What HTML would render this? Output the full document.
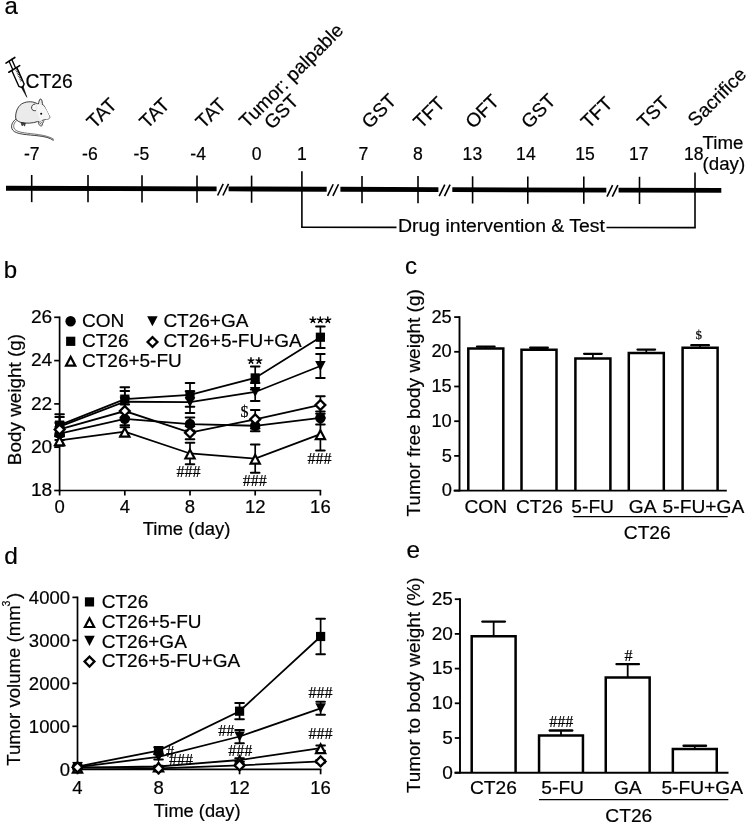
<!DOCTYPE html>
<html><head><meta charset="utf-8"><style>
html,body{margin:0;padding:0;background:#fff;width:747px;height:823px;overflow:hidden}
svg{display:block;will-change:transform;transform:translateZ(0)}
text{font-family:"Liberation Sans", sans-serif;fill:#000;stroke:#000;stroke-width:0.2px}
</style></head><body>
<svg width="747" height="823" viewBox="0 0 747 823">
<rect width="747" height="823" fill="#fff"/>
<text x="4.50" y="13.60" font-size="24" text-anchor="start" >a</text>
<path d="M6.00,185.87 L216.60,186.50 L216.60,191.30 L6.00,190.67 Z" fill="#000"/>
<path d="M228.60,186.54 L326.70,186.83 L326.70,191.63 L228.60,191.34 Z" fill="#000"/>
<path d="M340.40,186.87 L438.40,187.17 L438.40,191.97 L340.40,191.67 Z" fill="#000"/>
<path d="M452.30,187.21 L606.30,187.67 L606.30,192.47 L452.30,192.01 Z" fill="#000"/>
<path d="M618.60,187.71 L721.30,188.01 L721.30,192.81 L618.60,192.51 Z" fill="#000"/>
<line x1="217.60" y1="195.50" x2="223.20" y2="183.90" stroke="#000" stroke-width="1.6" />
<line x1="222.90" y1="195.50" x2="228.50" y2="183.90" stroke="#000" stroke-width="1.6" />
<line x1="327.60" y1="195.83" x2="333.20" y2="184.23" stroke="#000" stroke-width="1.6" />
<line x1="332.90" y1="195.83" x2="338.50" y2="184.23" stroke="#000" stroke-width="1.6" />
<line x1="439.20" y1="196.17" x2="444.80" y2="184.57" stroke="#000" stroke-width="1.6" />
<line x1="444.50" y1="196.17" x2="450.10" y2="184.57" stroke="#000" stroke-width="1.6" />
<line x1="607.00" y1="196.67" x2="612.60" y2="185.07" stroke="#000" stroke-width="1.6" />
<line x1="612.30" y1="196.67" x2="617.90" y2="185.07" stroke="#000" stroke-width="1.6" />
<line x1="31.70" y1="174.95" x2="31.70" y2="202.15" stroke="#000" stroke-width="1.6" />
<text x="31.80" y="160.00" font-size="17.6" text-anchor="middle" >-7</text>
<line x1="88.00" y1="175.11" x2="88.00" y2="202.31" stroke="#000" stroke-width="1.6" />
<text x="89.90" y="160.00" font-size="17.6" text-anchor="middle" >-6</text>
<line x1="142.00" y1="175.28" x2="142.00" y2="202.48" stroke="#000" stroke-width="1.6" />
<text x="141.40" y="160.00" font-size="17.6" text-anchor="middle" >-5</text>
<line x1="197.00" y1="175.44" x2="197.00" y2="202.64" stroke="#000" stroke-width="1.6" />
<text x="198.20" y="160.00" font-size="17.6" text-anchor="middle" >-4</text>
<line x1="251.60" y1="175.60" x2="251.60" y2="202.80" stroke="#000" stroke-width="1.6" />
<text x="256.70" y="160.00" font-size="17.6" text-anchor="middle" >0</text>
<line x1="301.90" y1="171.36" x2="301.90" y2="227.30" stroke="#000" stroke-width="1.6" />
<text x="301.80" y="160.00" font-size="17.6" text-anchor="middle" >1</text>
<line x1="362.00" y1="175.94" x2="362.00" y2="203.14" stroke="#000" stroke-width="1.6" />
<text x="363.40" y="160.00" font-size="17.6" text-anchor="middle" >7</text>
<line x1="418.00" y1="176.10" x2="418.00" y2="203.30" stroke="#000" stroke-width="1.6" />
<text x="418.00" y="160.00" font-size="17.6" text-anchor="middle" >8</text>
<line x1="472.60" y1="176.27" x2="472.60" y2="203.47" stroke="#000" stroke-width="1.6" />
<text x="472.40" y="160.00" font-size="17.6" text-anchor="middle" >13</text>
<line x1="527.80" y1="176.43" x2="527.80" y2="203.63" stroke="#000" stroke-width="1.6" />
<text x="525.90" y="160.00" font-size="17.6" text-anchor="middle" >14</text>
<line x1="583.80" y1="176.60" x2="583.80" y2="203.80" stroke="#000" stroke-width="1.6" />
<text x="585.00" y="160.00" font-size="17.6" text-anchor="middle" >15</text>
<line x1="639.50" y1="176.77" x2="639.50" y2="203.97" stroke="#000" stroke-width="1.6" />
<text x="638.80" y="160.00" font-size="17.6" text-anchor="middle" >17</text>
<line x1="695.00" y1="172.53" x2="695.00" y2="227.62" stroke="#000" stroke-width="1.6" />
<text x="693.80" y="160.00" font-size="17.6" text-anchor="middle" >18</text>
<line x1="301.10" y1="227.30" x2="396.50" y2="227.38" stroke="#000" stroke-width="1.6" />
<line x1="606.50" y1="227.55" x2="695.80" y2="227.62" stroke="#000" stroke-width="1.6" />
<text x="398.00" y="231.80" font-size="17.6" text-anchor="start" textLength="207" lengthAdjust="spacingAndGlyphs" >Drug intervention &amp; Test</text>
<text x="702.60" y="148.60" font-size="18.7" text-anchor="start" >Time</text>
<text x="702.60" y="170.20" font-size="18.7" text-anchor="start" >(day)</text>
<text transform="translate(94.50,129.50) rotate(-45)" font-size="19.2">TAT</text>
<text transform="translate(147.30,129.50) rotate(-45)" font-size="19.2">TAT</text>
<text transform="translate(203.60,129.50) rotate(-45)" font-size="19.2">TAT</text>
<text transform="translate(247.00,128.90) rotate(-45)" font-size="19.2">Tumor: palpable</text>
<text transform="translate(272.00,130.20) rotate(-45)" font-size="19.2">GST</text>
<text transform="translate(369.60,129.50) rotate(-45)" font-size="19.2">GST</text>
<text transform="translate(421.20,129.50) rotate(-45)" font-size="19.2">TFT</text>
<text transform="translate(473.20,129.50) rotate(-45)" font-size="19.2">OFT</text>
<text transform="translate(528.90,129.50) rotate(-45)" font-size="19.2">GST</text>
<text transform="translate(588.80,129.50) rotate(-45)" font-size="19.2">TFT</text>
<text transform="translate(644.90,129.50) rotate(-45)" font-size="19.2">TST</text>
<text transform="translate(695.60,127.60) rotate(-45)" font-size="19.2">Sacrifice</text>
<text x="25.60" y="87.80" font-size="19.3" text-anchor="start" >CT26</text>
<g transform="translate(10.4,60.3) rotate(-24)" stroke="#000" fill="none" stroke-linecap="round">
<line x1="-5.2" y1="0.8" x2="5.2" y2="-0.8" stroke-width="1.6"/>
<line x1="-1.6" y1="0.3" x2="-1.6" y2="9.6" stroke-width="1.3"/>
<line x1="1.6" y1="-0.3" x2="1.6" y2="9.2" stroke-width="1.3"/>
<line x1="-6.3" y1="10.3" x2="6.3" y2="8.7" stroke-width="1.6"/>
<path d="M-2.9,9.9 L-2.9,27.2 L-0.9,29.2 L0.9,29.2 L2.9,27.2 L2.9,9.3" stroke-width="1.4" stroke-linejoin="round"/>
<g stroke-width="0.75"><line x1="1.0" y1="11.2" x2="2.9" y2="11.2"/><line x1="1.0" y1="12.9" x2="2.9" y2="12.9"/><line x1="1.0" y1="14.6" x2="2.9" y2="14.6"/><line x1="1.0" y1="16.3" x2="2.9" y2="16.3"/><line x1="1.0" y1="18.0" x2="2.9" y2="18.0"/><line x1="1.0" y1="19.7" x2="2.9" y2="19.7"/><line x1="1.0" y1="21.4" x2="2.9" y2="21.4"/><line x1="1.0" y1="23.1" x2="2.9" y2="23.1"/></g>
<path d="M-1.0,29 L0,40.5 L1.0,29 Z" fill="#000" stroke-width="0.5"/>
</g>
<g stroke="#1a1a1a" stroke-linejoin="round">
<path d="M16.6,118.6 C12.2,121.6 10.2,126 12.6,130 C16,134.6 28,134.6 38,135.8 C45,136.6 50,137.8 53.5,140.5" fill="none" stroke-width="0.85"/>
<path d="M17.8,119.6 C14,122.4 12.6,126 14.6,129.2 C17.6,133 29,133.2 38.5,134.6 C45.5,135.6 50.5,137 54,139.5" fill="none" stroke-width="0.6"/>
<path d="M15.7,118 C15.3,112.5 17.5,106.8 21.5,104 C25.5,101.5 31.5,101 36,103 L38.4,104.3 C38.7,102 39.3,100 40.1,99.1 C41,98.7 41.7,99.6 42,101 L42.4,103.4 L42.1,104.2 L43.8,105.4 C45.4,108.2 47.2,111.6 48.6,114.6 C49.3,115.8 50.1,116.8 49.7,117.8 C49.2,118.9 47.8,119.2 46.5,119.1 C44.8,119.1 43.3,119.6 42.4,120.4 C41.6,121 40.9,121.6 40.4,122 L37.5,121.6 C33,123.3 25.5,123.8 20.5,122.3 C18,121.5 16.2,120 15.7,118 Z" fill="#ebebeb" stroke-width="0.85"/>
<path d="M37,104.5 C39.5,103.8 42.5,104.5 44.2,106.5 C46.4,109.4 48.2,113 49.6,117 C49.2,118.6 48,119 46.5,119 C44.5,119 42.6,119.6 41.2,120.6 C38.8,118 36.6,111 37,104.5 Z" fill="#f6f6f6" stroke="none"/>
<path d="M35.4,104 C33,104 31.2,106 31.6,108.4 C32,110.2 33.8,111 35.8,110.6" fill="#f8f8f8" stroke-width="0.85"/>
<circle cx="41.2" cy="113.7" r="1.0" fill="#000" stroke="none"/>
<path d="M38.8,121.6 C38.2,123.4 39,125.4 40.6,125.9 C42,126.2 42.9,125 42.4,123.6 C43.5,122.8 43.7,121.2 42.6,120.4" fill="#f0f0f0" stroke-width="0.75"/><path d="M39.6,122.4 L41.4,124.6 M40.6,121.4 L42.4,123.2 M43.2,119.6 L44.6,121.2" stroke-width="0.6" fill="none"/>
<path d="M21,122.6 L22,125.8 L23.4,124.6 L24.6,126.2 L25.4,123.2 Z" fill="#444" stroke-width="0.6"/>
</g>
<text x="3.80" y="277.60" font-size="24" text-anchor="start" >b</text>
<line x1="59.60" y1="316.50" x2="59.60" y2="491.30" stroke="#000" stroke-width="1.7" />
<line x1="58.80" y1="490.50" x2="321.20" y2="490.50" stroke="#000" stroke-width="1.7" />
<line x1="54.20" y1="490.50" x2="59.60" y2="490.50" stroke="#000" stroke-width="1.7" />
<text x="52.30" y="496.20" font-size="19.2" text-anchor="end" >18</text>
<line x1="54.20" y1="447.20" x2="59.60" y2="447.20" stroke="#000" stroke-width="1.7" />
<text x="52.30" y="452.90" font-size="19.2" text-anchor="end" >20</text>
<line x1="54.20" y1="403.90" x2="59.60" y2="403.90" stroke="#000" stroke-width="1.7" />
<text x="52.30" y="409.60" font-size="19.2" text-anchor="end" >22</text>
<line x1="54.20" y1="360.60" x2="59.60" y2="360.60" stroke="#000" stroke-width="1.7" />
<text x="52.30" y="366.30" font-size="19.2" text-anchor="end" >24</text>
<line x1="54.20" y1="317.30" x2="59.60" y2="317.30" stroke="#000" stroke-width="1.7" />
<text x="52.30" y="323.00" font-size="19.2" text-anchor="end" >26</text>
<line x1="59.60" y1="490.50" x2="59.60" y2="495.50" stroke="#000" stroke-width="1.7" />
<text x="59.60" y="513.30" font-size="18.5" text-anchor="middle" >0</text>
<line x1="124.80" y1="490.50" x2="124.80" y2="495.50" stroke="#000" stroke-width="1.7" />
<text x="124.80" y="513.30" font-size="18.5" text-anchor="middle" >4</text>
<line x1="190.00" y1="490.50" x2="190.00" y2="495.50" stroke="#000" stroke-width="1.7" />
<text x="190.00" y="513.30" font-size="18.5" text-anchor="middle" >8</text>
<line x1="255.20" y1="490.50" x2="255.20" y2="495.50" stroke="#000" stroke-width="1.7" />
<text x="255.20" y="513.30" font-size="18.5" text-anchor="middle" >12</text>
<line x1="320.40" y1="490.50" x2="320.40" y2="495.50" stroke="#000" stroke-width="1.7" />
<text x="320.40" y="513.30" font-size="18.5" text-anchor="middle" >16</text>
<text x="186.60" y="535.40" font-size="18.5" text-anchor="middle" >Time (day)</text>
<text transform="translate(20.8,399.5) rotate(-90)" font-size="18.9" text-anchor="middle">Body weight (g)</text>
<line x1="59.60" y1="427.07" x2="59.60" y2="440.06" stroke="#000" stroke-width="1.7" />
<line x1="55.30" y1="427.07" x2="63.90" y2="427.07" stroke="#000" stroke-width="2.0" stroke-linecap="round"/>
<line x1="55.30" y1="440.06" x2="63.90" y2="440.06" stroke="#000" stroke-width="2.0" stroke-linecap="round"/>
<line x1="124.80" y1="412.34" x2="124.80" y2="425.33" stroke="#000" stroke-width="1.7" />
<line x1="120.50" y1="412.34" x2="129.10" y2="412.34" stroke="#000" stroke-width="2.0" stroke-linecap="round"/>
<line x1="120.50" y1="425.33" x2="129.10" y2="425.33" stroke="#000" stroke-width="2.0" stroke-linecap="round"/>
<line x1="190.00" y1="417.54" x2="190.00" y2="430.53" stroke="#000" stroke-width="1.7" />
<line x1="185.70" y1="417.54" x2="194.30" y2="417.54" stroke="#000" stroke-width="2.0" stroke-linecap="round"/>
<line x1="185.70" y1="430.53" x2="194.30" y2="430.53" stroke="#000" stroke-width="2.0" stroke-linecap="round"/>
<line x1="255.20" y1="420.35" x2="255.20" y2="431.18" stroke="#000" stroke-width="1.7" />
<line x1="250.90" y1="420.35" x2="259.50" y2="420.35" stroke="#000" stroke-width="2.0" stroke-linecap="round"/>
<line x1="250.90" y1="431.18" x2="259.50" y2="431.18" stroke="#000" stroke-width="2.0" stroke-linecap="round"/>
<line x1="320.40" y1="411.48" x2="320.40" y2="424.47" stroke="#000" stroke-width="1.7" />
<line x1="316.10" y1="411.48" x2="324.70" y2="411.48" stroke="#000" stroke-width="2.0" stroke-linecap="round"/>
<line x1="316.10" y1="424.47" x2="324.70" y2="424.47" stroke="#000" stroke-width="2.0" stroke-linecap="round"/>
<polyline points="59.60,433.56 124.80,418.84 190.00,424.03 255.20,425.77 320.40,417.97" fill="none" stroke="#000" stroke-width="1.8"/>
<circle cx="59.60" cy="433.56" r="5.2" fill="#000"/>
<circle cx="124.80" cy="418.84" r="5.2" fill="#000"/>
<circle cx="190.00" cy="424.03" r="5.2" fill="#000"/>
<circle cx="255.20" cy="425.77" r="5.2" fill="#000"/>
<circle cx="320.40" cy="417.97" r="5.2" fill="#000"/>
<line x1="59.60" y1="414.29" x2="59.60" y2="435.94" stroke="#000" stroke-width="1.7" />
<line x1="55.30" y1="414.29" x2="63.90" y2="414.29" stroke="#000" stroke-width="2.0" stroke-linecap="round"/>
<line x1="55.30" y1="435.94" x2="63.90" y2="435.94" stroke="#000" stroke-width="2.0" stroke-linecap="round"/>
<line x1="124.80" y1="387.23" x2="124.80" y2="411.04" stroke="#000" stroke-width="1.7" />
<line x1="120.50" y1="387.23" x2="129.10" y2="387.23" stroke="#000" stroke-width="2.0" stroke-linecap="round"/>
<line x1="120.50" y1="411.04" x2="129.10" y2="411.04" stroke="#000" stroke-width="2.0" stroke-linecap="round"/>
<line x1="190.00" y1="382.90" x2="190.00" y2="406.71" stroke="#000" stroke-width="1.7" />
<line x1="185.70" y1="382.90" x2="194.30" y2="382.90" stroke="#000" stroke-width="2.0" stroke-linecap="round"/>
<line x1="185.70" y1="406.71" x2="194.30" y2="406.71" stroke="#000" stroke-width="2.0" stroke-linecap="round"/>
<line x1="255.20" y1="366.45" x2="255.20" y2="389.39" stroke="#000" stroke-width="1.7" />
<line x1="250.90" y1="366.45" x2="259.50" y2="366.45" stroke="#000" stroke-width="2.0" stroke-linecap="round"/>
<line x1="250.90" y1="389.39" x2="259.50" y2="389.39" stroke="#000" stroke-width="2.0" stroke-linecap="round"/>
<line x1="320.40" y1="326.39" x2="320.40" y2="348.04" stroke="#000" stroke-width="1.7" />
<line x1="316.10" y1="326.39" x2="324.70" y2="326.39" stroke="#000" stroke-width="2.0" stroke-linecap="round"/>
<line x1="316.10" y1="348.04" x2="324.70" y2="348.04" stroke="#000" stroke-width="2.0" stroke-linecap="round"/>
<polyline points="59.60,425.12 124.80,399.14 190.00,394.81 255.20,377.92 320.40,337.22" fill="none" stroke="#000" stroke-width="1.8"/>
<rect x="55.00" y="420.52" width="9.20" height="9.20" fill="#000" stroke="none" stroke-width="0"/>
<rect x="120.20" y="394.54" width="9.20" height="9.20" fill="#000" stroke="none" stroke-width="0"/>
<rect x="185.40" y="390.21" width="9.20" height="9.20" fill="#000" stroke="none" stroke-width="0"/>
<rect x="250.60" y="373.32" width="9.20" height="9.20" fill="#000" stroke="none" stroke-width="0"/>
<rect x="315.80" y="332.62" width="9.20" height="9.20" fill="#000" stroke="none" stroke-width="0"/>
<line x1="59.60" y1="434.86" x2="59.60" y2="445.68" stroke="#000" stroke-width="1.7" />
<line x1="55.30" y1="434.86" x2="63.90" y2="434.86" stroke="#000" stroke-width="2.0" stroke-linecap="round"/>
<line x1="55.30" y1="445.68" x2="63.90" y2="445.68" stroke="#000" stroke-width="2.0" stroke-linecap="round"/>
<line x1="124.80" y1="427.28" x2="124.80" y2="435.94" stroke="#000" stroke-width="1.7" />
<line x1="120.50" y1="427.28" x2="129.10" y2="427.28" stroke="#000" stroke-width="2.0" stroke-linecap="round"/>
<line x1="120.50" y1="435.94" x2="129.10" y2="435.94" stroke="#000" stroke-width="2.0" stroke-linecap="round"/>
<line x1="190.00" y1="442.65" x2="190.00" y2="464.30" stroke="#000" stroke-width="1.7" />
<line x1="185.70" y1="442.65" x2="194.30" y2="442.65" stroke="#000" stroke-width="2.0" stroke-linecap="round"/>
<line x1="185.70" y1="464.30" x2="194.30" y2="464.30" stroke="#000" stroke-width="2.0" stroke-linecap="round"/>
<line x1="255.20" y1="444.60" x2="255.20" y2="472.75" stroke="#000" stroke-width="1.7" />
<line x1="250.90" y1="444.60" x2="259.50" y2="444.60" stroke="#000" stroke-width="2.0" stroke-linecap="round"/>
<line x1="250.90" y1="472.75" x2="259.50" y2="472.75" stroke="#000" stroke-width="2.0" stroke-linecap="round"/>
<line x1="320.40" y1="417.97" x2="320.40" y2="450.45" stroke="#000" stroke-width="1.7" />
<line x1="316.10" y1="417.97" x2="324.70" y2="417.97" stroke="#000" stroke-width="2.0" stroke-linecap="round"/>
<line x1="316.10" y1="450.45" x2="324.70" y2="450.45" stroke="#000" stroke-width="2.0" stroke-linecap="round"/>
<polyline points="59.60,440.27 124.80,431.61 190.00,453.48 255.20,458.67 320.40,434.21" fill="none" stroke="#000" stroke-width="1.8"/>
<path d="M59.60,434.17 L66.05,446.37 L53.15,446.37 Z" fill="#000"/>
<path d="M59.60,438.88 L62.40,444.17 L56.80,444.17 Z" fill="#fff"/>
<path d="M124.80,425.51 L131.25,437.71 L118.35,437.71 Z" fill="#000"/>
<path d="M124.80,430.22 L127.60,435.51 L122.00,435.51 Z" fill="#fff"/>
<path d="M190.00,447.38 L196.45,459.58 L183.55,459.58 Z" fill="#000"/>
<path d="M190.00,452.09 L192.80,457.38 L187.20,457.38 Z" fill="#fff"/>
<path d="M255.20,452.57 L261.65,464.77 L248.75,464.77 Z" fill="#000"/>
<path d="M255.20,457.28 L258.00,462.57 L252.40,462.57 Z" fill="#fff"/>
<path d="M320.40,428.11 L326.85,440.31 L313.95,440.31 Z" fill="#000"/>
<path d="M320.40,432.82 L323.20,438.11 L317.60,438.11 Z" fill="#fff"/>
<line x1="59.60" y1="416.89" x2="59.60" y2="436.38" stroke="#000" stroke-width="1.7" />
<line x1="55.30" y1="416.89" x2="63.90" y2="416.89" stroke="#000" stroke-width="2.0" stroke-linecap="round"/>
<line x1="55.30" y1="436.38" x2="63.90" y2="436.38" stroke="#000" stroke-width="2.0" stroke-linecap="round"/>
<line x1="124.80" y1="390.91" x2="124.80" y2="412.56" stroke="#000" stroke-width="1.7" />
<line x1="120.50" y1="390.91" x2="129.10" y2="390.91" stroke="#000" stroke-width="2.0" stroke-linecap="round"/>
<line x1="120.50" y1="412.56" x2="129.10" y2="412.56" stroke="#000" stroke-width="2.0" stroke-linecap="round"/>
<line x1="190.00" y1="391.34" x2="190.00" y2="412.99" stroke="#000" stroke-width="1.7" />
<line x1="185.70" y1="391.34" x2="194.30" y2="391.34" stroke="#000" stroke-width="2.0" stroke-linecap="round"/>
<line x1="185.70" y1="412.99" x2="194.30" y2="412.99" stroke="#000" stroke-width="2.0" stroke-linecap="round"/>
<line x1="255.20" y1="382.90" x2="255.20" y2="401.09" stroke="#000" stroke-width="1.7" />
<line x1="250.90" y1="382.90" x2="259.50" y2="382.90" stroke="#000" stroke-width="2.0" stroke-linecap="round"/>
<line x1="250.90" y1="401.09" x2="259.50" y2="401.09" stroke="#000" stroke-width="2.0" stroke-linecap="round"/>
<line x1="320.40" y1="354.11" x2="320.40" y2="377.92" stroke="#000" stroke-width="1.7" />
<line x1="316.10" y1="354.11" x2="324.70" y2="354.11" stroke="#000" stroke-width="2.0" stroke-linecap="round"/>
<line x1="316.10" y1="377.92" x2="324.70" y2="377.92" stroke="#000" stroke-width="2.0" stroke-linecap="round"/>
<polyline points="59.60,426.63 124.80,401.73 190.00,402.17 255.20,391.99 320.40,366.01" fill="none" stroke="#000" stroke-width="1.8"/>
<path d="M54.35,421.58 L64.85,421.58 L59.60,431.68 Z" fill="#000"/>
<path d="M119.55,396.68 L130.05,396.68 L124.80,406.78 Z" fill="#000"/>
<path d="M184.75,397.12 L195.25,397.12 L190.00,407.22 Z" fill="#000"/>
<path d="M249.95,386.94 L260.45,386.94 L255.20,397.04 Z" fill="#000"/>
<path d="M315.15,360.96 L325.65,360.96 L320.40,371.06 Z" fill="#000"/>
<line x1="59.60" y1="422.95" x2="59.60" y2="435.94" stroke="#000" stroke-width="1.7" />
<line x1="55.30" y1="422.95" x2="63.90" y2="422.95" stroke="#000" stroke-width="2.0" stroke-linecap="round"/>
<line x1="55.30" y1="435.94" x2="63.90" y2="435.94" stroke="#000" stroke-width="2.0" stroke-linecap="round"/>
<line x1="124.80" y1="404.55" x2="124.80" y2="417.54" stroke="#000" stroke-width="1.7" />
<line x1="120.50" y1="404.55" x2="129.10" y2="404.55" stroke="#000" stroke-width="2.0" stroke-linecap="round"/>
<line x1="120.50" y1="417.54" x2="129.10" y2="417.54" stroke="#000" stroke-width="2.0" stroke-linecap="round"/>
<line x1="190.00" y1="426.20" x2="190.00" y2="439.19" stroke="#000" stroke-width="1.7" />
<line x1="185.70" y1="426.20" x2="194.30" y2="426.20" stroke="#000" stroke-width="2.0" stroke-linecap="round"/>
<line x1="185.70" y1="439.19" x2="194.30" y2="439.19" stroke="#000" stroke-width="2.0" stroke-linecap="round"/>
<line x1="255.20" y1="409.96" x2="255.20" y2="428.58" stroke="#000" stroke-width="1.7" />
<line x1="250.90" y1="409.96" x2="259.50" y2="409.96" stroke="#000" stroke-width="2.0" stroke-linecap="round"/>
<line x1="250.90" y1="428.58" x2="259.50" y2="428.58" stroke="#000" stroke-width="2.0" stroke-linecap="round"/>
<line x1="320.40" y1="396.32" x2="320.40" y2="413.64" stroke="#000" stroke-width="1.7" />
<line x1="316.10" y1="396.32" x2="324.70" y2="396.32" stroke="#000" stroke-width="2.0" stroke-linecap="round"/>
<line x1="316.10" y1="413.64" x2="324.70" y2="413.64" stroke="#000" stroke-width="2.0" stroke-linecap="round"/>
<polyline points="59.60,429.45 124.80,411.04 190.00,432.69 255.20,419.27 320.40,404.98" fill="none" stroke="#000" stroke-width="1.8"/>
<path d="M59.60,422.90 L66.15,429.45 L59.60,436.00 L53.05,429.45 Z" fill="#000"/>
<path d="M59.60,426.15 L62.90,429.45 L59.60,432.75 L56.30,429.45 Z" fill="#fff"/>
<path d="M124.80,404.49 L131.35,411.04 L124.80,417.59 L118.25,411.04 Z" fill="#000"/>
<path d="M124.80,407.74 L128.10,411.04 L124.80,414.34 L121.50,411.04 Z" fill="#fff"/>
<path d="M190.00,426.14 L196.55,432.69 L190.00,439.24 L183.45,432.69 Z" fill="#000"/>
<path d="M190.00,429.39 L193.30,432.69 L190.00,435.99 L186.70,432.69 Z" fill="#fff"/>
<path d="M255.20,412.72 L261.75,419.27 L255.20,425.82 L248.65,419.27 Z" fill="#000"/>
<path d="M255.20,415.97 L258.50,419.27 L255.20,422.57 L251.90,419.27 Z" fill="#fff"/>
<path d="M320.40,398.43 L326.95,404.98 L320.40,411.53 L313.85,404.98 Z" fill="#000"/>
<path d="M320.40,401.68 L323.70,404.98 L320.40,408.28 L317.10,404.98 Z" fill="#fff"/>
<text x="188.40" y="476.60" font-size="16" text-anchor="middle" font-family="Liberation Serif, serif" style="font-family:'Liberation Serif',serif">###</text>
<text x="254.70" y="486.20" font-size="16" text-anchor="middle" font-family="Liberation Serif, serif" style="font-family:'Liberation Serif',serif">###</text>
<text x="319.40" y="464.20" font-size="16" text-anchor="middle" font-family="Liberation Serif, serif" style="font-family:'Liberation Serif',serif">###</text>
<path d="M251.00,360.80 L251.00,357.80 M251.00,360.80 L253.85,359.87 M251.00,360.80 L252.76,363.23 M251.00,360.80 L249.24,363.23 M251.00,360.80 L248.15,359.87 " stroke="#000" stroke-width="1.45" stroke-linecap="round" fill="none"/>
<path d="M258.90,360.80 L258.90,357.80 M258.90,360.80 L261.75,359.87 M258.90,360.80 L260.66,363.23 M258.90,360.80 L257.14,363.23 M258.90,360.80 L256.05,359.87 " stroke="#000" stroke-width="1.45" stroke-linecap="round" fill="none"/>
<path d="M312.90,320.00 L312.90,317.00 M312.90,320.00 L315.75,319.07 M312.90,320.00 L314.66,322.43 M312.90,320.00 L311.14,322.43 M312.90,320.00 L310.05,319.07 " stroke="#000" stroke-width="1.45" stroke-linecap="round" fill="none"/>
<path d="M320.30,320.00 L320.30,317.00 M320.30,320.00 L323.15,319.07 M320.30,320.00 L322.06,322.43 M320.30,320.00 L318.54,322.43 M320.30,320.00 L317.45,319.07 " stroke="#000" stroke-width="1.45" stroke-linecap="round" fill="none"/>
<path d="M327.80,320.00 L327.80,317.00 M327.80,320.00 L330.65,319.07 M327.80,320.00 L329.56,322.43 M327.80,320.00 L326.04,322.43 M327.80,320.00 L324.95,319.07 " stroke="#000" stroke-width="1.45" stroke-linecap="round" fill="none"/>
<text x="244.50" y="416.80" font-size="16" text-anchor="middle" font-family="Liberation Serif, serif" style="font-family:'Liberation Serif',serif">$</text>
<circle cx="70.60" cy="321.30" r="5.2" fill="#000"/>
<text x="82.00" y="326.80" font-size="19" text-anchor="start" >CON</text>
<rect x="66.10" y="336.70" width="9.20" height="9.20" fill="#000" stroke="none" stroke-width="0"/>
<text x="82.00" y="346.50" font-size="19" text-anchor="start" >CT26</text>
<path d="M70.65,354.60 L77.10,366.80 L64.20,366.80 Z" fill="#000"/>
<path d="M70.65,359.31 L73.45,364.60 L67.85,364.60 Z" fill="#fff"/>
<text x="82.00" y="366.50" font-size="19" text-anchor="start" >CT26+5-FU</text>
<path d="M147.15,316.15 L157.65,316.15 L152.40,326.25 Z" fill="#000"/>
<text x="163.40" y="326.80" font-size="19" text-anchor="start" >CT26+GA</text>
<path d="M152.50,335.45 L159.05,342.00 L152.50,348.55 L145.95,342.00 Z" fill="#000"/>
<path d="M152.50,338.70 L155.80,342.00 L152.50,345.30 L149.20,342.00 Z" fill="#fff"/>
<text x="163.40" y="346.50" font-size="19" text-anchor="start" >CT26+5-FU+GA</text>
<text x="405.00" y="273.50" font-size="24" text-anchor="start" >c</text>
<text transform="translate(420.2,402.9) rotate(-90)" font-size="19" text-anchor="middle">Tumor free body weight (g)</text>
<line x1="485.80" y1="348.61" x2="485.80" y2="346.53" stroke="#000" stroke-width="1.7" />
<line x1="477.00" y1="346.53" x2="494.60" y2="346.53" stroke="#000" stroke-width="2.3" stroke-linecap="round"/>
<path d="M468.30,490.60 L468.30,348.61 L503.30,348.61 L503.30,490.60" fill="#fff" stroke="#000" stroke-width="2.5" stroke-linejoin="miter"/>
<line x1="539.00" y1="349.72" x2="539.00" y2="347.77" stroke="#000" stroke-width="1.7" />
<line x1="530.20" y1="347.77" x2="547.80" y2="347.77" stroke="#000" stroke-width="2.3" stroke-linecap="round"/>
<path d="M521.50,490.60 L521.50,349.72 L556.50,349.72 L556.50,490.60" fill="#fff" stroke="#000" stroke-width="2.5" stroke-linejoin="miter"/>
<line x1="592.90" y1="358.39" x2="592.90" y2="353.81" stroke="#000" stroke-width="1.7" />
<line x1="584.10" y1="353.81" x2="601.70" y2="353.81" stroke="#000" stroke-width="2.3" stroke-linecap="round"/>
<path d="M575.40,490.60 L575.40,358.39 L610.40,358.39 L610.40,490.60" fill="#fff" stroke="#000" stroke-width="2.5" stroke-linejoin="miter"/>
<line x1="646.30" y1="352.98" x2="646.30" y2="349.58" stroke="#000" stroke-width="1.7" />
<line x1="637.50" y1="349.58" x2="655.10" y2="349.58" stroke="#000" stroke-width="2.3" stroke-linecap="round"/>
<path d="M628.80,490.60 L628.80,352.98 L663.80,352.98 L663.80,490.60" fill="#fff" stroke="#000" stroke-width="2.5" stroke-linejoin="miter"/>
<line x1="700.10" y1="347.71" x2="700.10" y2="345.21" stroke="#000" stroke-width="1.7" />
<line x1="691.30" y1="345.21" x2="708.90" y2="345.21" stroke="#000" stroke-width="2.3" stroke-linecap="round"/>
<path d="M682.60,490.60 L682.60,347.71 L717.60,347.71 L717.60,490.60" fill="#fff" stroke="#000" stroke-width="2.5" stroke-linejoin="miter"/>
<line x1="459.50" y1="316.20" x2="459.50" y2="491.50" stroke="#000" stroke-width="1.9" />
<line x1="453.60" y1="490.60" x2="726.80" y2="490.60" stroke="#000" stroke-width="1.9" />
<line x1="454.20" y1="490.60" x2="459.50" y2="490.60" stroke="#000" stroke-width="1.8" />
<text x="451.80" y="496.20" font-size="18.3" text-anchor="end" >0</text>
<line x1="454.20" y1="455.90" x2="459.50" y2="455.90" stroke="#000" stroke-width="1.8" />
<text x="451.80" y="461.50" font-size="18.3" text-anchor="end" >5</text>
<line x1="454.20" y1="421.20" x2="459.50" y2="421.20" stroke="#000" stroke-width="1.8" />
<text x="451.80" y="426.80" font-size="18.3" text-anchor="end" >10</text>
<line x1="454.20" y1="386.50" x2="459.50" y2="386.50" stroke="#000" stroke-width="1.8" />
<text x="451.80" y="392.10" font-size="18.3" text-anchor="end" >15</text>
<line x1="454.20" y1="351.80" x2="459.50" y2="351.80" stroke="#000" stroke-width="1.8" />
<text x="451.80" y="357.40" font-size="18.3" text-anchor="end" >20</text>
<line x1="454.20" y1="317.10" x2="459.50" y2="317.10" stroke="#000" stroke-width="1.8" />
<text x="451.80" y="322.70" font-size="18.3" text-anchor="end" >25</text>
<text x="485.80" y="512.80" font-size="19.2" text-anchor="middle" >CON</text>
<text x="539.40" y="512.80" font-size="19.2" text-anchor="middle" >CT26</text>
<text x="592.65" y="512.80" font-size="19.2" text-anchor="middle" >5-FU</text>
<text x="642.65" y="512.80" font-size="19.2" text-anchor="middle" >GA</text>
<text x="703.40" y="512.80" font-size="19.2" text-anchor="middle" >5-FU+GA</text>
<line x1="573.50" y1="516.60" x2="727.70" y2="516.60" stroke="#000" stroke-width="1.1" />
<text x="647.25" y="539.00" font-size="19.2" text-anchor="middle" >CT26</text>
<text x="698.70" y="339.10" font-size="13" text-anchor="middle" font-family="Liberation Serif, serif" style="font-family:'Liberation Serif',serif">$</text>
<text x="4.30" y="563.90" font-size="24.5" text-anchor="start" >d</text>
<line x1="77.50" y1="596.58" x2="77.50" y2="770.10" stroke="#000" stroke-width="1.7" />
<line x1="76.70" y1="769.30" x2="321.42" y2="769.30" stroke="#000" stroke-width="1.7" />
<line x1="72.40" y1="769.30" x2="77.50" y2="769.30" stroke="#000" stroke-width="1.7" />
<text x="70.00" y="775.90" font-size="18.5" text-anchor="end" >0</text>
<line x1="72.40" y1="726.32" x2="77.50" y2="726.32" stroke="#000" stroke-width="1.7" />
<text x="70.00" y="732.92" font-size="18.5" text-anchor="end" >1000</text>
<line x1="72.40" y1="683.34" x2="77.50" y2="683.34" stroke="#000" stroke-width="1.7" />
<text x="70.00" y="689.94" font-size="18.5" text-anchor="end" >2000</text>
<line x1="72.40" y1="640.36" x2="77.50" y2="640.36" stroke="#000" stroke-width="1.7" />
<text x="70.00" y="646.96" font-size="18.5" text-anchor="end" >3000</text>
<line x1="72.40" y1="597.38" x2="77.50" y2="597.38" stroke="#000" stroke-width="1.7" />
<text x="70.00" y="603.98" font-size="18.5" text-anchor="end" >4000</text>
<line x1="77.50" y1="769.30" x2="77.50" y2="774.30" stroke="#000" stroke-width="1.7" />
<text x="77.50" y="794.30" font-size="18.5" text-anchor="middle" >4</text>
<line x1="158.54" y1="769.30" x2="158.54" y2="774.30" stroke="#000" stroke-width="1.7" />
<text x="158.54" y="794.30" font-size="18.5" text-anchor="middle" >8</text>
<line x1="239.58" y1="769.30" x2="239.58" y2="774.30" stroke="#000" stroke-width="1.7" />
<text x="239.58" y="794.30" font-size="18.5" text-anchor="middle" >12</text>
<line x1="320.62" y1="769.30" x2="320.62" y2="774.30" stroke="#000" stroke-width="1.7" />
<text x="320.62" y="794.30" font-size="18.5" text-anchor="middle" >16</text>
<text x="197.20" y="816.80" font-size="18.3" text-anchor="middle" >Time (day)</text>
<g transform="translate(19.9,679.3) rotate(-90)"><text font-size="18.6" text-anchor="middle">Tumor volume (mm<tspan font-size="10.5" dy="-9.5" dx="-1.2">3</tspan><tspan dy="9.5" dx="1.6">)</tspan></text></g>
<line x1="77.50" y1="765.22" x2="77.50" y2="767.80" stroke="#000" stroke-width="1.7" />
<line x1="73.20" y1="765.22" x2="81.80" y2="765.22" stroke="#000" stroke-width="2.0" stroke-linecap="round"/>
<line x1="73.20" y1="767.80" x2="81.80" y2="767.80" stroke="#000" stroke-width="2.0" stroke-linecap="round"/>
<line x1="158.54" y1="747.17" x2="158.54" y2="754.04" stroke="#000" stroke-width="1.7" />
<line x1="154.24" y1="747.17" x2="162.84" y2="747.17" stroke="#000" stroke-width="2.0" stroke-linecap="round"/>
<line x1="154.24" y1="754.04" x2="162.84" y2="754.04" stroke="#000" stroke-width="2.0" stroke-linecap="round"/>
<line x1="239.58" y1="703.02" x2="239.58" y2="719.36" stroke="#000" stroke-width="1.7" />
<line x1="235.28" y1="703.02" x2="243.88" y2="703.02" stroke="#000" stroke-width="2.0" stroke-linecap="round"/>
<line x1="235.28" y1="719.36" x2="243.88" y2="719.36" stroke="#000" stroke-width="2.0" stroke-linecap="round"/>
<line x1="320.62" y1="618.70" x2="320.62" y2="654.29" stroke="#000" stroke-width="1.7" />
<line x1="316.32" y1="618.70" x2="324.92" y2="618.70" stroke="#000" stroke-width="2.0" stroke-linecap="round"/>
<line x1="316.32" y1="654.29" x2="324.92" y2="654.29" stroke="#000" stroke-width="2.0" stroke-linecap="round"/>
<polyline points="77.50,766.51 158.54,750.60 239.58,711.19 320.62,636.49" fill="none" stroke="#000" stroke-width="1.8"/>
<rect x="72.90" y="761.91" width="9.20" height="9.20" fill="#000" stroke="none" stroke-width="0"/>
<rect x="153.94" y="746.00" width="9.20" height="9.20" fill="#000" stroke="none" stroke-width="0"/>
<rect x="234.98" y="706.59" width="9.20" height="9.20" fill="#000" stroke="none" stroke-width="0"/>
<rect x="316.02" y="631.89" width="9.20" height="9.20" fill="#000" stroke="none" stroke-width="0"/>
<line x1="77.50" y1="766.72" x2="77.50" y2="768.44" stroke="#000" stroke-width="1.7" />
<line x1="73.20" y1="766.72" x2="81.80" y2="766.72" stroke="#000" stroke-width="2.0" stroke-linecap="round"/>
<line x1="73.20" y1="768.44" x2="81.80" y2="768.44" stroke="#000" stroke-width="2.0" stroke-linecap="round"/>
<line x1="158.54" y1="765.65" x2="158.54" y2="767.37" stroke="#000" stroke-width="1.7" />
<line x1="154.24" y1="765.65" x2="162.84" y2="765.65" stroke="#000" stroke-width="2.0" stroke-linecap="round"/>
<line x1="154.24" y1="767.37" x2="162.84" y2="767.37" stroke="#000" stroke-width="2.0" stroke-linecap="round"/>
<line x1="239.58" y1="758.30" x2="239.58" y2="761.74" stroke="#000" stroke-width="1.7" />
<line x1="235.28" y1="758.30" x2="243.88" y2="758.30" stroke="#000" stroke-width="2.0" stroke-linecap="round"/>
<line x1="235.28" y1="761.74" x2="243.88" y2="761.74" stroke="#000" stroke-width="2.0" stroke-linecap="round"/>
<line x1="320.62" y1="745.62" x2="320.62" y2="750.78" stroke="#000" stroke-width="1.7" />
<line x1="316.32" y1="745.62" x2="324.92" y2="745.62" stroke="#000" stroke-width="2.0" stroke-linecap="round"/>
<line x1="316.32" y1="750.78" x2="324.92" y2="750.78" stroke="#000" stroke-width="2.0" stroke-linecap="round"/>
<polyline points="77.50,767.58 158.54,766.51 239.58,760.02 320.62,748.20" fill="none" stroke="#000" stroke-width="1.8"/>
<path d="M77.50,761.48 L83.95,773.68 L71.05,773.68 Z" fill="#000"/>
<path d="M77.50,766.19 L80.30,771.48 L74.70,771.48 Z" fill="#fff"/>
<path d="M158.54,760.41 L164.99,772.61 L152.09,772.61 Z" fill="#000"/>
<path d="M158.54,765.11 L161.34,770.41 L155.74,770.41 Z" fill="#fff"/>
<path d="M239.58,753.92 L246.03,766.12 L233.13,766.12 Z" fill="#000"/>
<path d="M239.58,758.62 L242.38,763.92 L236.78,763.92 Z" fill="#fff"/>
<path d="M320.62,742.10 L327.07,754.30 L314.17,754.30 Z" fill="#000"/>
<path d="M320.62,746.80 L323.42,752.10 L317.82,752.10 Z" fill="#fff"/>
<line x1="77.50" y1="766.08" x2="77.50" y2="768.23" stroke="#000" stroke-width="1.7" />
<line x1="73.20" y1="766.08" x2="81.80" y2="766.08" stroke="#000" stroke-width="2.0" stroke-linecap="round"/>
<line x1="73.20" y1="768.23" x2="81.80" y2="768.23" stroke="#000" stroke-width="2.0" stroke-linecap="round"/>
<line x1="158.54" y1="754.26" x2="158.54" y2="759.41" stroke="#000" stroke-width="1.7" />
<line x1="154.24" y1="754.26" x2="162.84" y2="754.26" stroke="#000" stroke-width="2.0" stroke-linecap="round"/>
<line x1="154.24" y1="759.41" x2="162.84" y2="759.41" stroke="#000" stroke-width="2.0" stroke-linecap="round"/>
<line x1="239.58" y1="729.89" x2="239.58" y2="743.13" stroke="#000" stroke-width="1.7" />
<line x1="235.28" y1="729.89" x2="243.88" y2="729.89" stroke="#000" stroke-width="2.0" stroke-linecap="round"/>
<line x1="235.28" y1="743.13" x2="243.88" y2="743.13" stroke="#000" stroke-width="2.0" stroke-linecap="round"/>
<line x1="320.62" y1="701.86" x2="320.62" y2="714.76" stroke="#000" stroke-width="1.7" />
<line x1="316.32" y1="701.86" x2="324.92" y2="701.86" stroke="#000" stroke-width="2.0" stroke-linecap="round"/>
<line x1="316.32" y1="714.76" x2="324.92" y2="714.76" stroke="#000" stroke-width="2.0" stroke-linecap="round"/>
<polyline points="77.50,767.15 158.54,756.84 239.58,736.51 320.62,708.31" fill="none" stroke="#000" stroke-width="1.8"/>
<path d="M72.25,762.10 L82.75,762.10 L77.50,772.20 Z" fill="#000"/>
<path d="M153.29,751.79 L163.79,751.79 L158.54,761.89 Z" fill="#000"/>
<path d="M234.33,731.46 L244.83,731.46 L239.58,741.56 Z" fill="#000"/>
<path d="M315.37,703.26 L325.87,703.26 L320.62,713.36 Z" fill="#000"/>
<line x1="77.50" y1="766.51" x2="77.50" y2="768.23" stroke="#000" stroke-width="1.7" />
<line x1="73.20" y1="766.51" x2="81.80" y2="766.51" stroke="#000" stroke-width="2.0" stroke-linecap="round"/>
<line x1="73.20" y1="768.23" x2="81.80" y2="768.23" stroke="#000" stroke-width="2.0" stroke-linecap="round"/>
<line x1="158.54" y1="767.75" x2="158.54" y2="769.04" stroke="#000" stroke-width="1.7" />
<line x1="154.24" y1="767.75" x2="162.84" y2="767.75" stroke="#000" stroke-width="2.0" stroke-linecap="round"/>
<line x1="154.24" y1="769.04" x2="162.84" y2="769.04" stroke="#000" stroke-width="2.0" stroke-linecap="round"/>
<line x1="239.58" y1="764.53" x2="239.58" y2="766.25" stroke="#000" stroke-width="1.7" />
<line x1="235.28" y1="764.53" x2="243.88" y2="764.53" stroke="#000" stroke-width="2.0" stroke-linecap="round"/>
<line x1="235.28" y1="766.25" x2="243.88" y2="766.25" stroke="#000" stroke-width="2.0" stroke-linecap="round"/>
<line x1="320.62" y1="760.10" x2="320.62" y2="762.68" stroke="#000" stroke-width="1.7" />
<line x1="316.32" y1="760.10" x2="324.92" y2="760.10" stroke="#000" stroke-width="2.0" stroke-linecap="round"/>
<line x1="316.32" y1="762.68" x2="324.92" y2="762.68" stroke="#000" stroke-width="2.0" stroke-linecap="round"/>
<polyline points="77.50,767.37 158.54,768.40 239.58,765.39 320.62,761.39" fill="none" stroke="#000" stroke-width="1.8"/>
<path d="M77.50,760.82 L84.05,767.37 L77.50,773.92 L70.95,767.37 Z" fill="#000"/>
<path d="M77.50,764.07 L80.80,767.37 L77.50,770.67 L74.20,767.37 Z" fill="#fff"/>
<path d="M158.54,761.85 L165.09,768.40 L158.54,774.95 L151.99,768.40 Z" fill="#000"/>
<path d="M158.54,765.10 L161.84,768.40 L158.54,771.70 L155.24,768.40 Z" fill="#fff"/>
<path d="M239.58,758.84 L246.13,765.39 L239.58,771.94 L233.03,765.39 Z" fill="#000"/>
<path d="M239.58,762.09 L242.88,765.39 L239.58,768.69 L236.28,765.39 Z" fill="#fff"/>
<path d="M320.62,754.84 L327.17,761.39 L320.62,767.94 L314.07,761.39 Z" fill="#000"/>
<path d="M320.62,758.09 L323.92,761.39 L320.62,764.69 L317.32,761.39 Z" fill="#fff"/>
<text x="170.20" y="757.00" font-size="16" text-anchor="middle" font-family="Liberation Serif, serif" style="font-family:'Liberation Serif',serif">#</text>
<text x="181.00" y="765.20" font-size="16" text-anchor="middle" font-family="Liberation Serif, serif" style="font-family:'Liberation Serif',serif">###</text>
<text x="226.20" y="735.60" font-size="16" text-anchor="middle" font-family="Liberation Serif, serif" style="font-family:'Liberation Serif',serif">##</text>
<text x="240.20" y="755.80" font-size="16" text-anchor="middle" font-family="Liberation Serif, serif" style="font-family:'Liberation Serif',serif">###</text>
<text x="320.40" y="697.70" font-size="16" text-anchor="middle" font-family="Liberation Serif, serif" style="font-family:'Liberation Serif',serif">###</text>
<text x="320.40" y="739.40" font-size="16" text-anchor="middle" font-family="Liberation Serif, serif" style="font-family:'Liberation Serif',serif">###</text>
<rect x="84.90" y="597.30" width="9.20" height="9.20" fill="#000" stroke="none" stroke-width="0"/>
<text x="101.80" y="607.90" font-size="19" text-anchor="start" >CT26</text>
<path d="M89.50,615.90 L95.95,628.10 L83.05,628.10 Z" fill="#000"/>
<path d="M89.50,620.61 L92.30,625.90 L86.70,625.90 Z" fill="#fff"/>
<text x="101.80" y="627.80" font-size="19" text-anchor="start" >CT26+5-FU</text>
<path d="M84.25,635.85 L94.75,635.85 L89.50,645.95 Z" fill="#000"/>
<text x="101.80" y="647.70" font-size="19" text-anchor="start" >CT26+GA</text>
<path d="M89.50,655.05 L96.05,661.60 L89.50,668.15 L82.95,661.60 Z" fill="#000"/>
<path d="M89.50,658.30 L92.80,661.60 L89.50,664.90 L86.20,661.60 Z" fill="#fff"/>
<text x="101.80" y="667.40" font-size="19" text-anchor="start" >CT26+5-FU+GA</text>
<text x="406.60" y="557.60" font-size="24.3" text-anchor="start" >e</text>
<text transform="translate(420.4,685.2) rotate(-90)" font-size="18.9" text-anchor="middle">Tumor to body weight (%)</text>
<line x1="493.65" y1="636.19" x2="493.65" y2="621.62" stroke="#000" stroke-width="1.8" />
<line x1="482.45" y1="621.62" x2="504.85" y2="621.62" stroke="#000" stroke-width="2.4" stroke-linecap="round"/>
<path d="M471.70,772.70 L471.70,636.19 L515.60,636.19 L515.60,772.70" fill="#fff" stroke="#000" stroke-width="2.5" stroke-linejoin="miter"/>
<line x1="561.00" y1="735.50" x2="561.00" y2="730.50" stroke="#000" stroke-width="1.8" />
<line x1="549.80" y1="730.50" x2="572.20" y2="730.50" stroke="#000" stroke-width="2.4" stroke-linecap="round"/>
<path d="M539.05,772.70 L539.05,735.50 L582.95,735.50 L582.95,772.70" fill="#fff" stroke="#000" stroke-width="2.5" stroke-linejoin="miter"/>
<line x1="627.70" y1="677.41" x2="627.70" y2="664.09" stroke="#000" stroke-width="1.8" />
<line x1="616.50" y1="664.09" x2="638.90" y2="664.09" stroke="#000" stroke-width="2.4" stroke-linecap="round"/>
<path d="M605.75,772.70 L605.75,677.41 L649.65,677.41 L649.65,772.70" fill="#fff" stroke="#000" stroke-width="2.5" stroke-linejoin="miter"/>
<line x1="694.80" y1="748.90" x2="694.80" y2="745.77" stroke="#000" stroke-width="1.8" />
<line x1="683.60" y1="745.77" x2="706.00" y2="745.77" stroke="#000" stroke-width="2.4" stroke-linecap="round"/>
<path d="M672.85,772.70 L672.85,748.90 L716.75,748.90 L716.75,772.70" fill="#fff" stroke="#000" stroke-width="2.5" stroke-linejoin="miter"/>
<line x1="460.00" y1="598.30" x2="460.00" y2="773.60" stroke="#000" stroke-width="1.9" />
<line x1="454.50" y1="772.70" x2="728.50" y2="772.70" stroke="#000" stroke-width="1.9" />
<line x1="454.80" y1="772.70" x2="460.00" y2="772.70" stroke="#000" stroke-width="1.8" />
<text x="452.90" y="778.50" font-size="19.0" text-anchor="end" >0</text>
<line x1="454.80" y1="738.00" x2="460.00" y2="738.00" stroke="#000" stroke-width="1.8" />
<text x="452.90" y="743.80" font-size="19.0" text-anchor="end" >5</text>
<line x1="454.80" y1="703.30" x2="460.00" y2="703.30" stroke="#000" stroke-width="1.8" />
<text x="452.90" y="709.10" font-size="19.0" text-anchor="end" >10</text>
<line x1="454.80" y1="668.60" x2="460.00" y2="668.60" stroke="#000" stroke-width="1.8" />
<text x="452.90" y="674.40" font-size="19.0" text-anchor="end" >15</text>
<line x1="454.80" y1="633.90" x2="460.00" y2="633.90" stroke="#000" stroke-width="1.8" />
<text x="452.90" y="639.70" font-size="19.0" text-anchor="end" >20</text>
<line x1="454.80" y1="599.20" x2="460.00" y2="599.20" stroke="#000" stroke-width="1.8" />
<text x="452.90" y="605.00" font-size="19.0" text-anchor="end" >25</text>
<text x="493.45" y="794.40" font-size="19.2" text-anchor="middle" >CT26</text>
<text x="562.65" y="794.40" font-size="19.2" text-anchor="middle" >5-FU</text>
<text x="627.80" y="794.40" font-size="19.2" text-anchor="middle" >GA</text>
<text x="702.25" y="794.40" font-size="19.2" text-anchor="middle" >5-FU+GA</text>
<line x1="539.00" y1="799.60" x2="728.30" y2="799.60" stroke="#000" stroke-width="1.1" />
<text x="628.80" y="821.60" font-size="19.2" text-anchor="middle" >CT26</text>
<text x="561.20" y="727.40" font-size="16" text-anchor="middle" font-family="Liberation Serif, serif" style="font-family:'Liberation Serif',serif">###</text>
<text x="628.50" y="661.20" font-size="16" text-anchor="middle" font-family="Liberation Serif, serif" style="font-family:'Liberation Serif',serif">#</text>
</svg>
</body></html>
